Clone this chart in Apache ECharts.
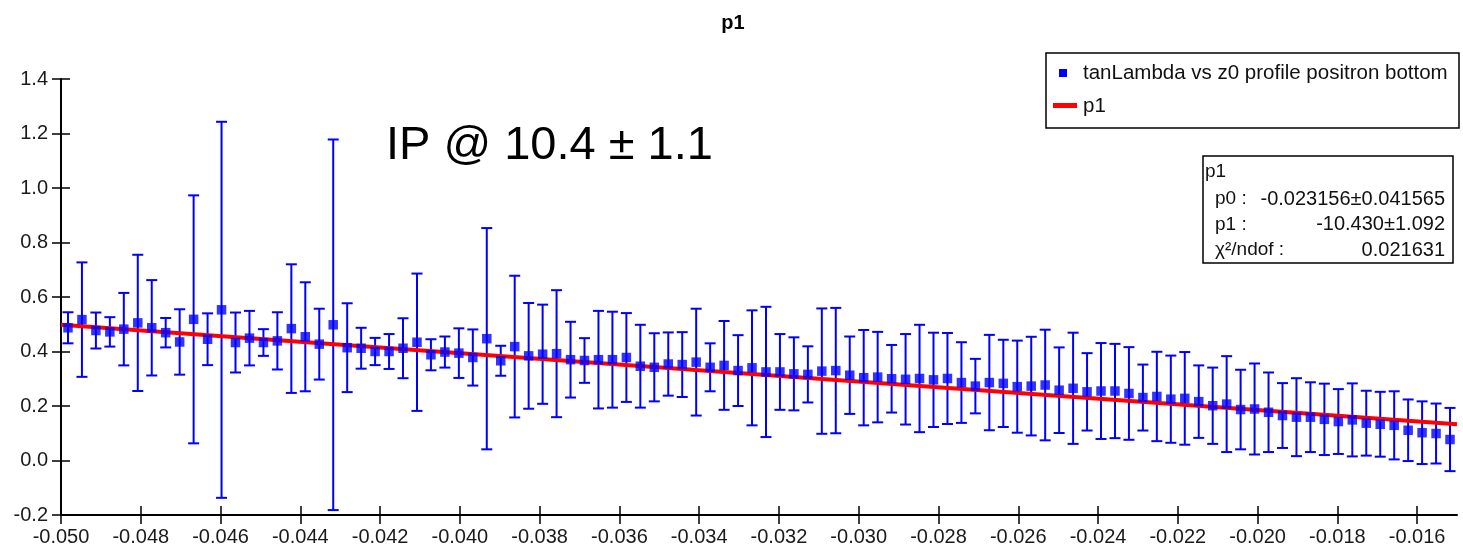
<!DOCTYPE html>
<html><head><meta charset="utf-8">
<script src="https://cdn.jsdelivr.net/npm/echarts@6/dist/echarts.min.js"></script>
<style>html,body{margin:0;padding:0;background:#fff}#c{width:1463px;height:552px}</style>
</head><body><div id="c"></div>
<script>
// Histogram binning of the profile (100 bins over the x range)
const binLow = -0.050;
const binWidth = 0.00035;

// Profile means (tanLambda) per z0 bin
const profileValues = [
  0.487, 0.517, 0.477, 0.472, 0.482, 0.505, 0.487, 0.469, 0.435, 0.518,
  0.445, 0.553, 0.433, 0.449, 0.433, 0.439, 0.484, 0.454, 0.427, 0.498,
  0.414, 0.412, 0.400, 0.400, 0.412, 0.434, 0.388, 0.398, 0.394, 0.378,
  0.447, 0.366, 0.418, 0.384, 0.390, 0.392, 0.370, 0.367, 0.370, 0.370,
  0.378, 0.346, 0.342, 0.354, 0.352, 0.361, 0.342, 0.349, 0.330, 0.340,
  0.325, 0.325, 0.318, 0.316, 0.328, 0.330, 0.313, 0.304, 0.306, 0.300,
  0.298, 0.301, 0.296, 0.301, 0.286, 0.273, 0.286, 0.283, 0.271, 0.273,
  0.277, 0.258, 0.265, 0.252, 0.255, 0.255, 0.246, 0.231, 0.235, 0.225,
  0.228, 0.216, 0.201, 0.207, 0.187, 0.189, 0.177, 0.165, 0.159, 0.159,
  0.151, 0.143, 0.149, 0.137, 0.133, 0.129, 0.111, 0.102, 0.099, 0.077
];

// Symmetric error per bin
const profileErrors = [
  0.057, 0.210, 0.066, 0.054, 0.133, 0.250, 0.175, 0.054, 0.120, 0.455,
  0.095, 0.690, 0.110, 0.100, 0.049, 0.105, 0.236, 0.200, 0.130, 0.680,
  0.163, 0.075, 0.050, 0.064, 0.110, 0.252, 0.057, 0.057, 0.091, 0.103,
  0.406, 0.055, 0.260, 0.194, 0.182, 0.233, 0.139, 0.082, 0.179, 0.176,
  0.163, 0.152, 0.125, 0.116, 0.119, 0.196, 0.088, 0.163, 0.130, 0.211,
  0.239, 0.139, 0.134, 0.103, 0.230, 0.230, 0.142, 0.175, 0.166, 0.124,
  0.166, 0.197, 0.173, 0.167, 0.148, 0.100, 0.175, 0.160, 0.169, 0.181,
  0.203, 0.157, 0.204, 0.142, 0.176, 0.173, 0.170, 0.121, 0.164, 0.160,
  0.170, 0.133, 0.140, 0.176, 0.146, 0.167, 0.146, 0.119, 0.143, 0.128,
  0.131, 0.119, 0.134, 0.119, 0.119, 0.125, 0.113, 0.115, 0.110, 0.116
];

// Fitted line (p1), endpoints
const fitX = [-0.050, -0.015];
const fitY = [0.498, 0.133];

// Tick labels
const xTicks = [-0.050, -0.048, -0.046, -0.044, -0.042, -0.040, -0.038, -0.036, -0.034,
                -0.032, -0.030, -0.028, -0.026, -0.024, -0.022, -0.020, -0.018, -0.016];
const yTicks = [-0.2, 0.0, 0.2, 0.4, 0.6, 0.8, 1.0, 1.2, 1.4];

const titleText = 'p1';
const annotationText = 'IP @ 10.4 \u00b1 1.1';
const legendNames = ['tanLambda vs z0 profile positron bottom', 'p1'];
const statsTitle = 'p1';
const statsLabels = ['p0 :', 'p1 :', '\u03c7\u00b2/ndof :'];
const statsValues = ['-0.023156\u00b10.041565', '-10.430\u00b11.092', '0.021631'];

const FONT = '"Liberation Sans", Arial, sans-serif';
const BLUE = '#0000ff';
const RED = '#ff0000';

const pts = profileValues.map((v, i) => [binLow + (i + 0.5) * binWidth, v, profileErrors[i]]);
const fitData = fitX.map((x, i) => [x, fitY[i]]);

const chart = echarts.init(document.getElementById('c'), null, {renderer: 'canvas'});

const xBase = {
  type: 'value', min: -0.050, max: -0.015, position: 'bottom',
  splitLine: {show: false}
};
const yBase = {
  type: 'value', min: yTicks[0], max: yTicks[yTicks.length - 1], interval: 0.2, position: 'left',
  splitLine: {show: false}
};

const statsChildren = [
  {type: 'rect', shape: {x: 1203, y: 156, width: 250, height: 107},
   style: {fill: '#fff', stroke: '#000', lineWidth: 1.5}},
  {type: 'text', x: 1205, y: 172, style: {text: statsTitle, font: '19px ' + FONT, fill: '#111', verticalAlign: 'middle'}}
];
statsLabels.forEach((lab, i) => {
  const yy = 199 + i * 25.5;
  statsChildren.push({type: 'text', x: 1215, y: yy,
    style: {text: lab, font: '19px ' + FONT, fill: '#111', verticalAlign: 'middle'}});
  statsChildren.push({type: 'text', x: 1445, y: yy,
    style: {text: statsValues[i], font: '20px ' + FONT, fill: '#111', align: 'right', verticalAlign: 'middle'}});
});

const option = {
  animation: false,
  backgroundColor: '#fff',
  graphic: [
    {type: 'text', x: 733, y: 23,
     style: {text: titleText, font: 'bold 20px ' + FONT, fill: '#000', align: 'center', verticalAlign: 'middle'}},
    {type: 'text', x: 386, y: 146,
     style: {text: annotationText, font: '47px ' + FONT, fill: '#000', verticalAlign: 'middle'}},
    {type: 'group', children: [
      {type: 'rect', shape: {x: 1046, y: 53, width: 413, height: 75},
       style: {fill: '#fff', stroke: '#000', lineWidth: 1.5}},
      {type: 'rect', shape: {x: 1059, y: 69, width: 8, height: 8}, style: {fill: BLUE}},
      {type: 'text', x: 1083, y: 73,
       style: {text: legendNames[0], font: '20.5px ' + FONT, fill: '#111', verticalAlign: 'middle'}},
      {type: 'rect', shape: {x: 1053, y: 103, width: 24, height: 5}, style: {fill: RED}},
      {type: 'text', x: 1083, y: 106,
       style: {text: legendNames[1], font: '20.5px ' + FONT, fill: '#111', verticalAlign: 'middle'}}
    ]},
    {type: 'group', children: statsChildren}
  ],
  grid: {left: 61, right: 6, top: 79, bottom: 37, containLabel: false},
  xAxis: [
    Object.assign({}, xBase, {
      axisLine: {show: true, onZero: false, lineStyle: {color: '#000', width: 2}},
      axisTick: {show: true, inside: false, length: 9, customValues: xTicks, lineStyle: {color: '#000', width: 1.5}},
      axisLabel: {show: true, customValues: xTicks, margin: 12, fontFamily: FONT, fontSize: 20, color: '#1a1a1a',
                  formatter: v => v.toFixed(3)}
    }),
    Object.assign({}, xBase, {
      axisLine: {show: false, onZero: false},
      axisTick: {show: true, inside: true, length: 9, customValues: xTicks, lineStyle: {color: '#000', width: 1.5}},
      axisLabel: {show: false}
    })
  ],
  yAxis: [
    Object.assign({}, yBase, {
      axisLine: {show: true, onZero: false, lineStyle: {color: '#000', width: 2}},
      axisTick: {show: true, inside: false, length: 9, lineStyle: {color: '#000', width: 1.5}},
      axisLabel: {show: true, margin: 13, fontFamily: FONT, fontSize: 20, color: '#1a1a1a',
                  formatter: v => (Math.abs(v) < 1e-9 ? 0 : v).toFixed(1)}
    }),
    Object.assign({}, yBase, {
      axisLine: {show: false, onZero: false},
      axisTick: {show: true, inside: true, length: 9, lineStyle: {color: '#000', width: 1.5}},
      axisLabel: {show: false}
    })
  ],
  series: [
    {
      type: 'custom', name: 'errors', xAxisIndex: 0, yAxisIndex: 0, z: 2,
      data: pts,
      encode: {x: 0, y: 1},
      renderItem: function (params, api) {
        const x = api.value(0), y = api.value(1), e = api.value(2);
        const top = api.coord([x, y + e]);
        const bot = api.coord([x, y - e]);
        const hw = 5.5;
        const st = {stroke: BLUE, lineWidth: 2};
        return {type: 'group', children: [
          {type: 'line', shape: {x1: top[0], y1: top[1], x2: bot[0], y2: bot[1]}, style: st},
          {type: 'line', shape: {x1: top[0] - hw, y1: top[1], x2: top[0] + hw, y2: top[1]}, style: st},
          {type: 'line', shape: {x1: bot[0] - hw, y1: bot[1], x2: bot[0] + hw, y2: bot[1]}, style: st}
        ]};
      }
    },
    {
      type: 'line', name: legendNames[1], xAxisIndex: 0, yAxisIndex: 0, z: 3,
      data: fitData, showSymbol: false, symbol: 'none',
      lineStyle: {color: RED, width: 4}
    },
    {
      type: 'scatter', name: legendNames[0], xAxisIndex: 0, yAxisIndex: 0, z: 4,
      data: pts.map(p => [p[0], p[1]]),
      symbol: 'rect', symbolSize: 9.5,
      itemStyle: {color: BLUE}
    }
  ]
};
chart.setOption(option);
</script>
</body></html>
